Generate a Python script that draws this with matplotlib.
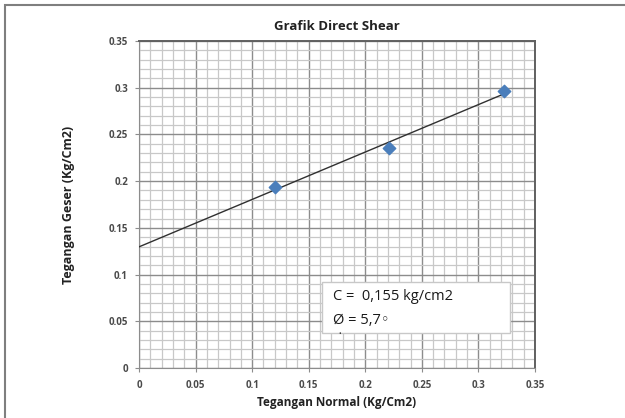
import numpy as np
import matplotlib.pyplot as plt
from matplotlib.patches import Rectangle

# data
tegangan_normal = [0.120, 0.221, 0.323]
tegangan_geser = [0.194, 0.235, 0.297]

x_ticks = [0, 0.05, 0.1, 0.15, 0.2, 0.25, 0.3, 0.35]
x_labels = ['0', '0.05', '0.1', '0.15', '0.2', '0.25', '0.3', '0.35']
y_ticks = [0, 0.05, 0.1, 0.15, 0.2, 0.25, 0.3, 0.35]
y_labels = ['0', '0.05', '0.1', '0.15', '0.2', '0.25', '0.3', '0.35']

hasil_c = 'C =  0,155 kg/cm2'
hasil_phi = 'Ø = 5,7◦'

# linear trendline
slope, intercept = np.polyfit(tegangan_normal, tegangan_geser, 1)
x_line = np.array([0, max(tegangan_normal)])
y_line = slope * x_line + intercept

plt.rcParams['font.family'] = ['Open Sans', 'DejaVu Sans']

fig = plt.figure(figsize=(6.25, 4.18), dpi=100)
fig.patches.append(Rectangle((5 / 625, -0.1), 1.2, 1 - 5 / 418 + 0.1,
                             transform=fig.transFigure, fill=False,
                             edgecolor='#7f7f7f', linewidth=1.5))

ax = fig.add_axes([139 / 625, 1 - 368 / 418, (535 - 139) / 625, (368 - 41) / 418])

ax.set_xlim(0, 0.35)
ax.set_ylim(0, 0.35)
ax.set_xticks(x_ticks)
ax.set_xticklabels(x_labels)
ax.set_yticks(y_ticks)
ax.set_yticklabels(y_labels)
ax.set_xticks(np.arange(0, 0.351, 0.01), minor=True)
ax.set_yticks(np.arange(0, 0.351, 0.01), minor=True)
ax.grid(which='major', color='#8c8c8c', linewidth=1.0)
ax.grid(which='minor', color='#c8c8c8', linewidth=0.9)
ax.set_axisbelow(True)
ax.tick_params(which='minor', length=0)
ax.tick_params(which='major', length=3, color='#8c8c8c', labelsize=7,
               labelcolor='#4a4a4a')
ax.tick_params(axis='x', pad=6)
ax.tick_params(axis='y', pad=5)
for lbl in ax.get_xticklabels() + ax.get_yticklabels():
    lbl.set_fontweight('bold')
for side in ['left', 'bottom']:
    ax.spines[side].set_color('#8c8c8c')
for side in ['top', 'right']:
    ax.spines[side].set_color('#606060')
    ax.spines[side].set_linewidth(1.4)

ax.plot(x_line, y_line, color='#303030', linewidth=1.0, zorder=3)
ax.scatter(tegangan_normal, tegangan_geser, marker='D', s=40,
           color='#4a7ebb', zorder=4)

ax.set_title('Grafik Direct Shear', fontsize=9.5, fontweight='bold',
             color='#222222', pad=8)
ax.set_xlabel('Tegangan Normal (Kg/Cm2)', fontsize=8.5, fontweight='bold',
              color='#222222', labelpad=3)
ax.set_ylabel('Tegangan Geser (Kg/Cm2)', fontsize=9, fontweight='bold',
              color='#222222', labelpad=24)

box = Rectangle((322 / 625, 1 - 333 / 418), (510 - 322) / 625, (333 - 282) / 418,
                transform=fig.transFigure, facecolor='white',
                edgecolor='#c8c8c8', linewidth=1.0, zorder=5)
fig.patches.append(box)
fig.text(333 / 625, 1 - 297 / 418, hasil_c, fontsize=10.5, color='#1a1a1a',
         va='center', ha='left', zorder=6)
fig.text(333 / 625, 1 - 320 / 418, hasil_phi, fontsize=10.5, color='#1a1a1a',
         va='center', ha='left', zorder=6)
fig.text(340 / 625, 1 - 335 / 418, '•', fontsize=5, color='#333333',
         va='center', ha='center', zorder=6)

fig.savefig('out.png', dpi=100)
